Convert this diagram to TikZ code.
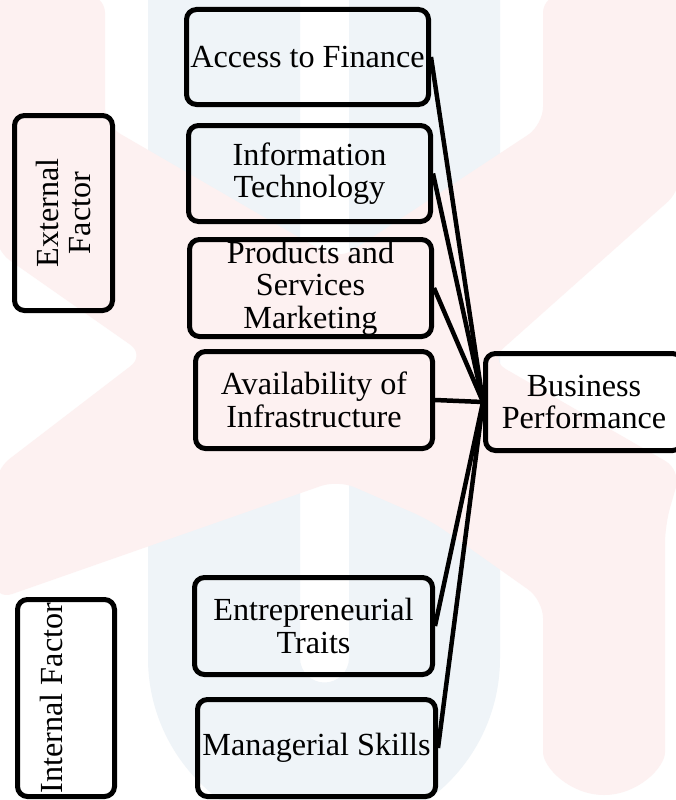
\documentclass[tikz,border=0pt]{standalone}
\usepackage{fontspec}
\setmainfont{Liberation Serif}

\definecolor{logoblue}{RGB}{239,244,248}
\definecolor{logopink}{RGB}{253,241,241}

\begin{document}
\begin{tikzpicture}[x=1pt,y=-1pt,
    factor/.style={draw,line width=5pt,rounded corners=10pt,inner sep=1pt,
      align=center,font=\fontsize{32.2}{32.5}\selectfont},
    group/.style={factor,rotate=90},
    link/.style={draw,line width=4.5pt}]
  \useasboundingbox (0,0) rectangle (676,800);
  \fill[white] (0,0) rectangle (676,800);

  % faint logo behind the boxes
  \fill[logoblue] (148,-5) -- (148,658) arc[start angle=180,end angle=0,radius=176]
    -- (500,-5) -- (349,-5) -- (349,658) arc[start angle=0,end angle=180,radius=24.5]
    -- (300,-5) -- cycle;
  \fill[logopink,rounded corners=18pt] (-5,-5) -- (105,-5) -- (105,125) -- (338,260)
    -- (543,125) -- (543,-5) -- (681,-5) -- (681,190) -- (490,360) -- (681,470)
    -- (665,525) -- (665,734) arc[start angle=0,end angle=180,radius=61]
    -- (543,600) -- (430,520) -- (338,480) -- (-5,600) -- (-5,470) -- (145,355)
    -- (-5,250) -- cycle;

  % factors
  \node[factor,minimum width=242,minimum height=95] (fin) at (307.5,57) {Access to Finance};
  \node[factor,minimum width=242,minimum height=96] (it) at (309.5,173.5) {Information\\Technology};
  \node[factor,minimum width=242,minimum height=97] (psm) at (310.5,288) {Products and\\Services\\Marketing};
  \node[factor,minimum width=237,minimum height=97] (infra) at (314,400) {Availability of\\Infrastructure};
  \node[factor,minimum width=238,minimum height=97] (ent) at (313.5,626) {Entrepreneurial\\Traits};
  \node[factor,minimum width=238,minimum height=97] (mgr) at (316.5,748) {Managerial Skills};

  \node[factor,minimum width=197,minimum height=97] (bp) at (584,402) {Business\\Performance};

  % groups
  \node[group,minimum width=195,minimum height=98] (ext) at (63.5,213) {External\\Factor};
  \node[group,minimum width=197,minimum height=97,text depth=30pt] (int) at (66,698) {Internal Factor};

  \path (fin.east) edge[link] (bp.west)
    (it.east) edge[link] (bp.west)
    (psm.east) edge[link] (bp.west)
    (infra.east) edge[link] (bp.west)
    (ent.east) edge[link] (bp.west)
    (mgr.east) edge[link] (bp.west);
\end{tikzpicture}
\end{document}
